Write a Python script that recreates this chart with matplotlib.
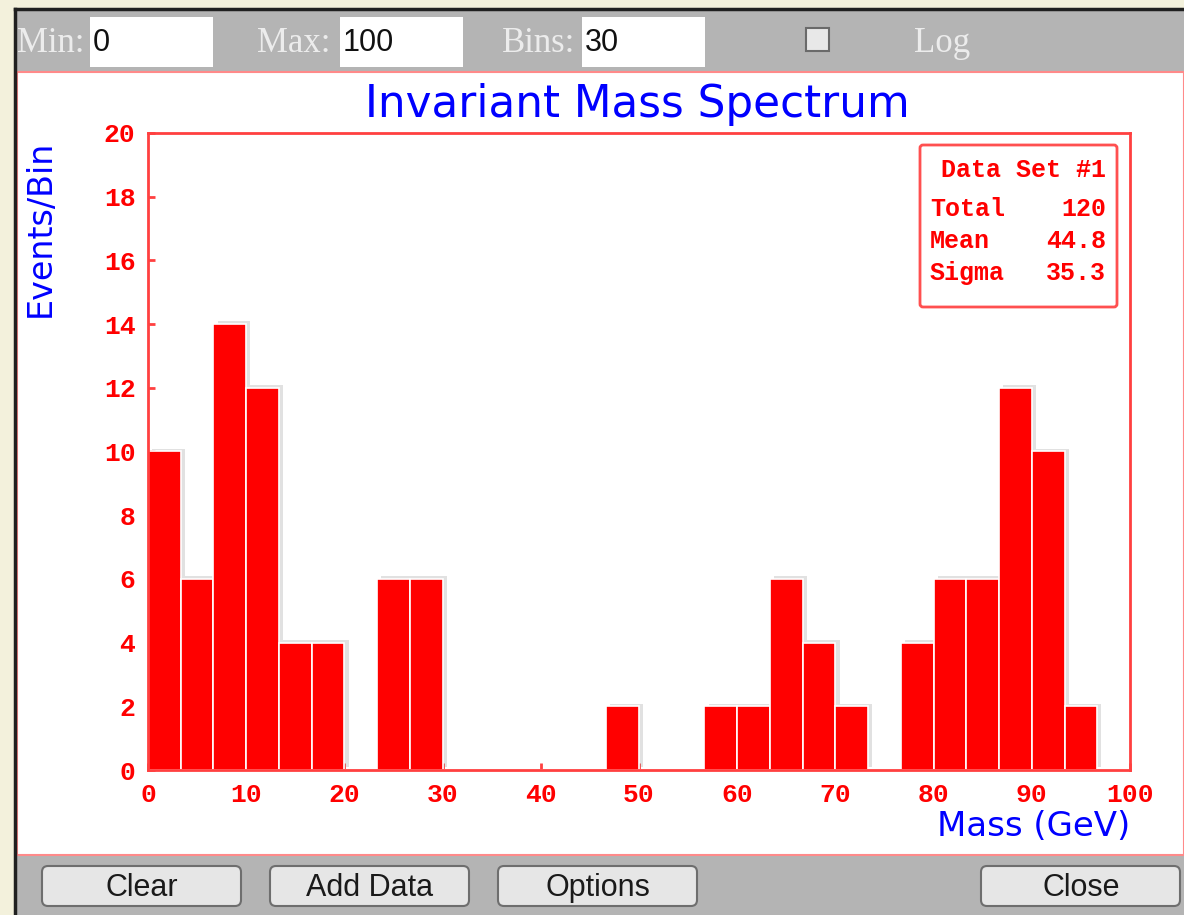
import numpy as np
import matplotlib
matplotlib.use('Agg')
import matplotlib.pyplot as plt
from matplotlib.patches import Rectangle, FancyBboxPatch
import matplotlib.patheffects as pe

# histogram settings and bin contents
mass_min = 0
mass_max = 100
n_bins = 30
counts = [10, 6, 14, 12, 4, 4, 0, 6, 6, 0,
          0, 0, 0, 0, 2, 0, 0, 2, 2, 6,
          4, 2, 0, 4, 6, 6, 12, 10, 2, 0]
x_ticks = [0, 10, 20, 30, 40, 50, 60, 70, 80, 90, 100]
y_ticks = [0, 2, 4, 6, 8, 10, 12, 14, 16, 18, 20]
stat_names = ['Total', 'Mean', 'Sigma']
stat_values = ['120', '44.8', '35.3']
buttons = ['Clear', 'Add Data', 'Options', 'Close']

W, H = 1184, 915
RED = '#ff0000'
BLUE = '#0000ff'
GREY = '#b4b4b4'
MONO = 'Liberation Mono'

fig = plt.figure(figsize=(W / 100, H / 100), dpi=100)
fig.patch.set_facecolor('#f3f1dc')

# background "window" drawn in pixel coordinates
bg = fig.add_axes([0, 0, 1, 1])
bg.set_xlim(0, W)
bg.set_ylim(H, 0)
bg.axis('off')

bg.add_patch(Rectangle((15, 9), W - 15, H - 9, facecolor=GREY, edgecolor='none'))
bg.plot([15, 15], [9, H], color='#202020', lw=2.5)
bg.plot([15, W], [9, 9], color='#202020', lw=2.5)
bg.add_patch(Rectangle((17, 72), W - 17, 783, facecolor='white', edgecolor='#ff8a8a', lw=1.5))

# toolbar
for lbl, lx, bx, val in [('Min:', 17, 90, '0'), ('Max:', 257, 340, '100'), ('Bins:', 502, 582, '30')]:
    bg.text(lx, 43, lbl, family='Liberation Serif', fontsize=25, color='#ececec', va='center', ha='left')
    bg.add_patch(Rectangle((bx, 17), 123, 50, facecolor='white', edgecolor='none'))
    bg.text(bx + 3, 43, val, family='Liberation Sans', fontsize=22, color='#111111', va='center', ha='left')
bg.add_patch(Rectangle((806, 28), 23, 23, facecolor='#e8e8e8', edgecolor='#6a6a6a', lw=1.5))
bg.text(914, 43, 'Log', family='Liberation Serif', fontsize=25, color='#ececec', va='center', ha='left')

# bottom buttons
for name, bx in zip(buttons, [42, 270, 498, 981]):
    bg.add_patch(FancyBboxPatch((bx, 866), 199, 40, boxstyle='round,pad=0,rounding_size=6',
                                facecolor='#e6e6e6', edgecolor='#6e6e6e', lw=1.5))
    bg.text(bx + 100, 888, name, family='Liberation Sans', fontsize=22, color='#1a1a1a',
            ha='center', va='center')

# titles
bg.text(637, 105, 'Invariant Mass Spectrum', family='DejaVu Sans', fontsize=31.5, color=BLUE,
        ha='center', va='center')
bg.text(40, 228, 'Events/Bin', family='DejaVu Sans', fontsize=24, color=BLUE,
        ha='center', va='center', rotation=90)
bg.text(1130, 826, 'Mass (GeV)', family='DejaVu Sans', fontsize=24.5, color=BLUE,
        ha='right', va='center')

# stats box
bg.add_patch(FancyBboxPatch((920, 145), 197, 162, boxstyle='round,pad=0,rounding_size=3',
                            facecolor='white', edgecolor='#ff5050', lw=2))
bg.text(1106, 170, 'Data Set #1', family=MONO, fontweight='bold', fontsize=18, color=RED,
        ha='right', va='center')
for i, (nm, v) in enumerate(zip(stat_names, stat_values)):
    yy = 209 + 32 * i
    bg.text(930, yy, nm, family=MONO, fontweight='bold', fontsize=18, color=RED, ha='left', va='center')
    bg.text(1106, yy, v, family=MONO, fontweight='bold', fontsize=18, color=RED, ha='right', va='center')

# histogram axes
ax = fig.add_axes([148 / W, (H - 770) / H, 982 / W, 637 / H])
ax.patch.set_alpha(0)
edges = np.linspace(mass_min, mass_max, n_bins + 1)
bars = ax.bar(edges[:-1], counts, width=np.diff(edges), align='edge',
              color=RED, edgecolor='white', linewidth=1.2, zorder=3)
for b in bars:
    b.set_path_effects([pe.SimplePatchShadow(offset=(3, 2), shadow_rgbFace='#888888', alpha=0.25),
                        pe.Normal()])

ax.set_xlim(mass_min, mass_max)
ax.set_ylim(0, 20)
ax.set_xticks(x_ticks)
ax.set_yticks(y_ticks)
for s in ax.spines.values():
    s.set_color('#ff4040')
    s.set_linewidth(2)
    s.set_zorder(4)
ax.tick_params(direction='in', length=5, width=2, color='#ff4040',
               labelcolor=RED, labelsize=19)
ax.tick_params(axis='x', pad=9)
ax.tick_params(axis='y', pad=9)
for t in ax.get_xticklabels() + ax.get_yticklabels():
    t.set_family(MONO)
    t.set_fontweight('bold')

fig.savefig('out.png', dpi=100)
